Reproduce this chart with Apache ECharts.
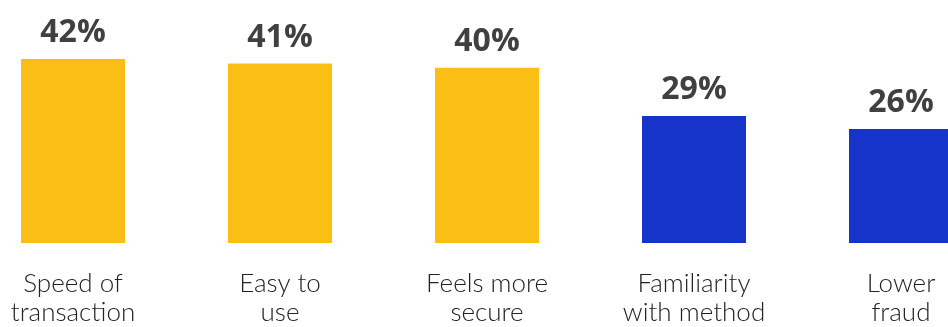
<!DOCTYPE html>
<html>
<head>
<meta charset="utf-8">
<script src="https://cdn.jsdelivr.net/npm/echarts@6/dist/echarts.min.js"></script>
<style>
  html, body { margin: 0; padding: 0; background: #fff; }
  #chart { width: 948px; height: 327px; }
</style>
</head>
<body>
<div id="chart"></div>
<script>
// reasons for choosing a payment method
const categories = ['Speed of\ntransaction', 'Easy to\nuse', 'Feels more\nsecure', 'Familiarity\nwith method', 'Lower\nfraud'];
const values = [42, 41, 40, 29, 26];
const barColors = ['#FBBE15', '#FBBE15', '#FBBE15', '#1734CA', '#1734CA'];

let chart = echarts.init(document.getElementById('chart'));

const option = {
  animation: false,
  // last bar runs past the right edge, like the original crop
  grid: { left: -30.5, width: 1035, top: 24, bottom: 84, outerBoundsMode: 'none', containLabel: false },
  xAxis: {
    type: 'category',
    data: categories,
    axisLine: { show: false },
    axisTick: { show: false },
    axisLabel: {
      interval: 0,
      margin: 26,
      color: '#222',
      fontFamily: 'Lato',
      fontWeight: 300,
      fontSize: 26,
      lineHeight: 29
    }
  },
  yAxis: {
    type: 'value',
    min: 0,
    max: 50,
    show: false
  },
  series: [
    {
      type: 'bar',
      barWidth: 104,
      data: values.map((v, i) => ({ value: v, itemStyle: { color: barColors[i] } })),
      label: {
        show: true,
        position: 'top',
        distance: 10,
        formatter: '{c}%',
        color: '#404040',
        fontFamily: 'Open Sans',
        fontWeight: 'bold',
        fontSize: 32
      }
    }
  ]
};

chart.setOption(option);
</script>
</body>
</html>
